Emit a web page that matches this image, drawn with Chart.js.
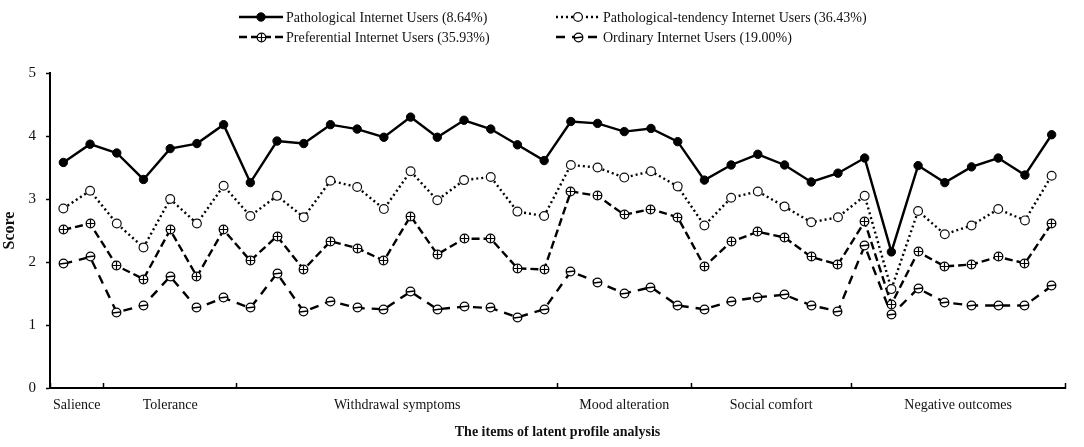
<!doctype html>
<html>
<head>
<meta charset="utf-8">
<title>Latent profile analysis</title>
<script src="https://cdn.jsdelivr.net/npm/chart.js@4/dist/chart.umd.min.js"></script>
<style>
  html, body { margin: 0; padding: 0; background: #fff; }
  #wrap { width: 1084px; height: 447px; }
</style>
</head>
<body>
<div id="wrap"><canvas id="canvas"></canvas></div>
<script>
// group names and how many items each group has
var groupNames = ['Salience', 'Tolerance', 'Withdrawal symptoms', 'Mood alteration', 'Social comfort', 'Negative outcomes'];
var groupSizes = [2, 5, 12, 5, 6, 8];

var seriesNames = [
  'Pathological Internet Users (8.64%)',
  'Pathological-tendency Internet Users (36.43%)',
  'Preferential Internet Users (35.93%)',
  'Ordinary Internet Users (19.00%)'
];

var pathological = [3.58, 3.87, 3.73, 3.31, 3.80, 3.88, 4.18, 3.26, 3.92, 3.88, 4.18, 4.11, 3.98, 4.30, 3.98, 4.25, 4.11, 3.86, 3.61, 4.23, 4.20, 4.07, 4.12, 3.91, 3.30, 3.54, 3.71, 3.54, 3.27, 3.41, 3.65, 2.16, 3.53, 3.26, 3.51, 3.65, 3.38, 4.02];
var tendency = [2.85, 3.13, 2.61, 2.23, 3.00, 2.61, 3.21, 2.73, 3.05, 2.71, 3.29, 3.19, 2.84, 3.44, 2.98, 3.30, 3.35, 2.80, 2.73, 3.54, 3.50, 3.34, 3.44, 3.20, 2.58, 3.02, 3.12, 2.88, 2.63, 2.71, 3.05, 1.57, 2.81, 2.44, 2.58, 2.84, 2.66, 3.37];
var preferential = [2.51, 2.61, 1.94, 1.73, 2.51, 1.77, 2.51, 2.02, 2.41, 1.88, 2.33, 2.22, 2.02, 2.73, 2.12, 2.37, 2.37, 1.90, 1.88, 3.12, 3.05, 2.75, 2.84, 2.71, 1.93, 2.32, 2.48, 2.39, 2.08, 1.96, 2.64, 1.33, 2.16, 1.93, 1.96, 2.08, 1.98, 2.61];
var ordinary = [1.97, 2.08, 1.20, 1.31, 1.77, 1.27, 1.43, 1.27, 1.82, 1.21, 1.38, 1.27, 1.25, 1.53, 1.25, 1.29, 1.27, 1.12, 1.25, 1.85, 1.68, 1.50, 1.60, 1.31, 1.25, 1.38, 1.44, 1.48, 1.31, 1.22, 2.26, 1.16, 1.58, 1.36, 1.31, 1.31, 1.31, 1.62];

var yTicks = [0, 1, 2, 3, 4, 5];

// item labels, one per point
var items = [];
groupNames.forEach(function(g, gi) {
  for (var k = 1; k <= groupSizes[gi]; k++) items.push(g + ' ' + k);
});

// group boundaries and centres in item-index units
var bounds = [-0.5], centres = [];
(function() {
  var start = 0;
  groupSizes.forEach(function(n) {
    centres.push(start + (n - 1) / 2);
    start += n;
    bounds.push(start - 0.5);
  });
})();

function near(a, b) { return Math.abs(a - b) < 1e-6; }

// small marker images: circle with a cross, circle with a bar
function marker(kind) {
  var c = document.createElement('canvas');
  c.width = 11; c.height = 11;
  var g = c.getContext('2d');
  g.beginPath();
  g.arc(5.5, 5.5, 4.3, 0, Math.PI * 2);
  g.fillStyle = '#fff';
  g.fill();
  g.lineWidth = 1.3;
  g.strokeStyle = '#000';
  g.stroke();
  g.beginPath();
  if (kind === 'cross') {
    g.moveTo(1.5, 5.5); g.lineTo(9.5, 5.5);
    g.moveTo(5.5, 1.5); g.lineTo(5.5, 9.5);
    g.lineWidth = 1.2;
  } else {
    g.moveTo(1.3, 6); g.lineTo(9.7, 5);
    g.lineWidth = 1.5;
  }
  g.stroke();
  return c;
}

// keep the marker images crisp
var crispMarkers = {
  id: 'crispMarkers',
  beforeDatasetsDraw: function(chart) { chart.ctx.imageSmoothingEnabled = false; },
  afterDatasetsDraw: function(chart) { chart.ctx.imageSmoothingEnabled = true; }
};

var gridLegend = {
  id: 'gridLegend',
  afterDraw: function(chart, args, opts) {
    var ctx = chart.ctx;
    chart.data.datasets.forEach(function(ds, i) {
      var x = opts.cols[i % 2], y = opts.rows[Math.floor(i / 2)];
      var mid = x + opts.sample / 2;
      ctx.save();
      ctx.strokeStyle = ds.borderColor;
      ctx.lineWidth = ds.borderWidth;
      ctx.setLineDash(ds.borderDash || []);
      ctx.beginPath();
      ctx.moveTo(x, y);
      ctx.lineTo(x + opts.sample, y);
      ctx.stroke();
      ctx.setLineDash([]);
      if (typeof ds.pointStyle === 'object') {
        ctx.drawImage(ds.pointStyle, Math.round(mid - ds.pointStyle.width / 2), Math.round(y - ds.pointStyle.height / 2));
      } else {
        ctx.beginPath();
        ctx.arc(mid, y, ds.pointRadius, 0, Math.PI * 2);
        ctx.fillStyle = ds.pointBackgroundColor;
        ctx.fill();
        ctx.lineWidth = ds.pointBorderWidth;
        ctx.strokeStyle = ds.pointBorderColor;
        ctx.stroke();
      }
      ctx.fillStyle = '#111';
      ctx.font = '14px "Liberation Serif"';
      ctx.textBaseline = 'middle';
      ctx.fillText(ds.label, x + opts.sample + 3, y + 1);
      ctx.restore();
    });
  }
};

Chart.defaults.font.family = '"Liberation Serif", "Times New Roman", serif';
Chart.defaults.color = '#111';

var config = {
  type: 'line',
  data: {
    labels: items,
    datasets: [{
      label: seriesNames[0],
      data: pathological,
      borderColor: '#000',
      borderWidth: 2.4,
      pointStyle: 'circle',
      pointRadius: 4.2,
      pointBackgroundColor: '#000',
      pointBorderColor: '#000',
      pointBorderWidth: 1
    }, {
      label: seriesNames[1],
      data: tendency,
      borderColor: '#000',
      borderWidth: 2.4,
      borderDash: [2, 3],
      pointStyle: 'circle',
      pointRadius: 4.4,
      pointBackgroundColor: '#fff',
      pointBorderColor: '#111',
      pointBorderWidth: 1.2
    }, {
      label: seriesNames[2],
      data: preferential,
      borderColor: '#000',
      borderWidth: 2.4,
      borderDash: [8, 4],
      pointStyle: marker('cross'),
      pointRadius: 5,
      pointBackgroundColor: '#fff',
      pointBorderColor: '#111',
      pointBorderWidth: 1.2
    }, {
      label: seriesNames[3],
      data: ordinary,
      borderColor: '#000',
      borderWidth: 2.4,
      borderDash: [9, 7],
      pointStyle: marker('bar'),
      pointRadius: 5,
      pointBackgroundColor: '#fff',
      pointBorderColor: '#111',
      pointBorderWidth: 1.2
    }]
  },
  options: {
    responsive: true,
    maintainAspectRatio: false,
    animation: false,
    events: [],
    layout: { padding: { top: 73, right: 19, bottom: 3, left: 0 } },
    elements: { line: { tension: 0 } },
    plugins: {
      legend: { display: false },
      tooltip: { enabled: false },
      gridLegend: { cols: [239, 556], rows: [17, 37], sample: 44 }
    },
    scales: {
      x: {
        type: 'category',
        display: false,
        offset: true
      },
      x2: {
        type: 'linear',
        position: 'bottom',
        min: -0.5,
        max: items.length - 0.5,
        afterBuildTicks: function(scale) {
          scale.ticks = bounds.concat(centres).sort(function(a, b) { return a - b; })
            .map(function(v) { return { value: v }; });
        },
        afterFit: function(scale) { scale.height = 56; },
        border: { display: true, color: '#000', width: 2 },
        grid: {
          drawOnChartArea: false,
          tickLength: -5,
          tickWidth: 1.5,
          tickColor: function(c) {
            var v = c.tick ? c.tick.value : null;
            return bounds.some(function(b) { return near(b, v); }) ? '#000' : 'rgba(0,0,0,0)';
          }
        },
        ticks: {
          autoSkip: false,
          maxRotation: 0,
          padding: 14,
          font: { size: 14 },
          callback: function(value) {
            for (var i = 0; i < centres.length; i++) {
              if (near(centres[i], value)) return groupNames[i];
            }
            return '';
          }
        },
        title: {
          display: true,
          text: 'The items of latent profile analysis',
          font: { size: 14, weight: 'bold' },
          padding: { top: 0, bottom: 3 }
        }
      },
      y: {
        min: 0,
        max: 5,
        afterBuildTicks: function(scale) {
          scale.ticks = yTicks.map(function(v) { return { value: v }; });
        },
        afterFit: function(scale) { scale.width = 50; },
        border: { display: true, color: '#000', width: 2 },
        grid: { drawOnChartArea: false, tickLength: 4, tickColor: '#000', tickWidth: 1.5 },
        ticks: { padding: 10, font: { size: 15 } },
        title: {
          display: true,
          text: 'Score',
          font: { size: 16, weight: 'bold' },
          padding: { top: 0, bottom: 0 }
        }
      }
    }
  },
  plugins: [crispMarkers, gridLegend]
};

window.onload = function() {
  window.myLine = new Chart(document.getElementById('canvas'), config);
};
</script>
</body>
</html>
